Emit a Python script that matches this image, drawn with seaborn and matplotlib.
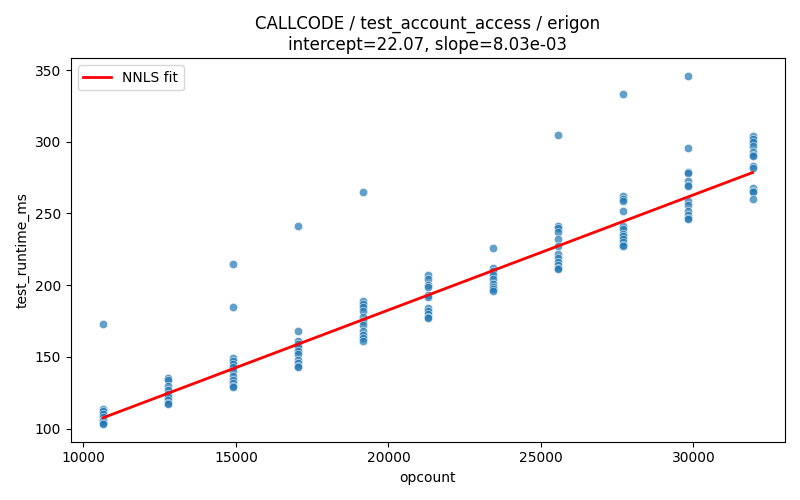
import numpy as np
import pandas as pd
import matplotlib
matplotlib.use("Agg")
import matplotlib.pyplot as plt
import seaborn as sns

opcounts = [10650, 12780, 14900, 17030, 19160, 21290, 23420, 25550, 27680, 29810, 31940]
runtimes = [
    [173, 114, 112, 110, 108, 106, 105, 104, 103],
    [135, 134, 130, 127, 124, 122, 120, 118, 117],
    [215, 185, 149, 147, 145, 143, 140, 137, 134, 132, 130, 129],
    [241, 168, 161, 159, 157, 154, 152, 148, 146, 144, 143],
    [265, 189, 187, 185, 182, 178, 175, 172, 168, 165, 163, 161],
    [207, 204, 200, 199, 193, 192, 184, 182, 180, 178, 177],
    [226, 212, 210, 207, 204, 201, 199, 197, 196],
    [305, 241, 240, 237, 232, 227, 222, 219, 216, 214, 212, 211],
    [333, 262, 260, 259, 252, 241, 239, 236, 234, 232, 230, 228, 227],
    [346, 296, 279, 278, 273, 270, 269, 259, 256, 252, 249, 247, 246],
    [304, 302, 300, 297, 293, 291, 290, 283, 282, 268, 266, 265, 260],
]
intercept = 22.07
slope = 8.03e-3

xs, ys = [], []
for x, vals in zip(opcounts, runtimes):
    for v in vals:
        xs.append(x)
        ys.append(v)
df = pd.DataFrame({"opcount": xs, "test_runtime_ms": ys})

fit_x = np.array([min(opcounts), max(opcounts)])
fit_df = pd.DataFrame({"opcount": fit_x, "fit": intercept + slope * fit_x})

fig, ax = plt.subplots(figsize=(8, 5), dpi=100)
sns.scatterplot(data=df, x="opcount", y="test_runtime_ms", alpha=0.7, ax=ax)
sns.lineplot(data=fit_df, x="opcount", y="fit", color="red", linewidth=2, label="NNLS fit", ax=ax)
ax.set_title(f"CALLCODE / test_account_access / erigon\nintercept={intercept:.2f}, slope={slope:.2e}")
ax.set_xlabel("opcount")
ax.set_ylabel("test_runtime_ms")
ax.legend(loc="upper left")
fig.tight_layout()
fig.savefig("out.png", dpi=100)
